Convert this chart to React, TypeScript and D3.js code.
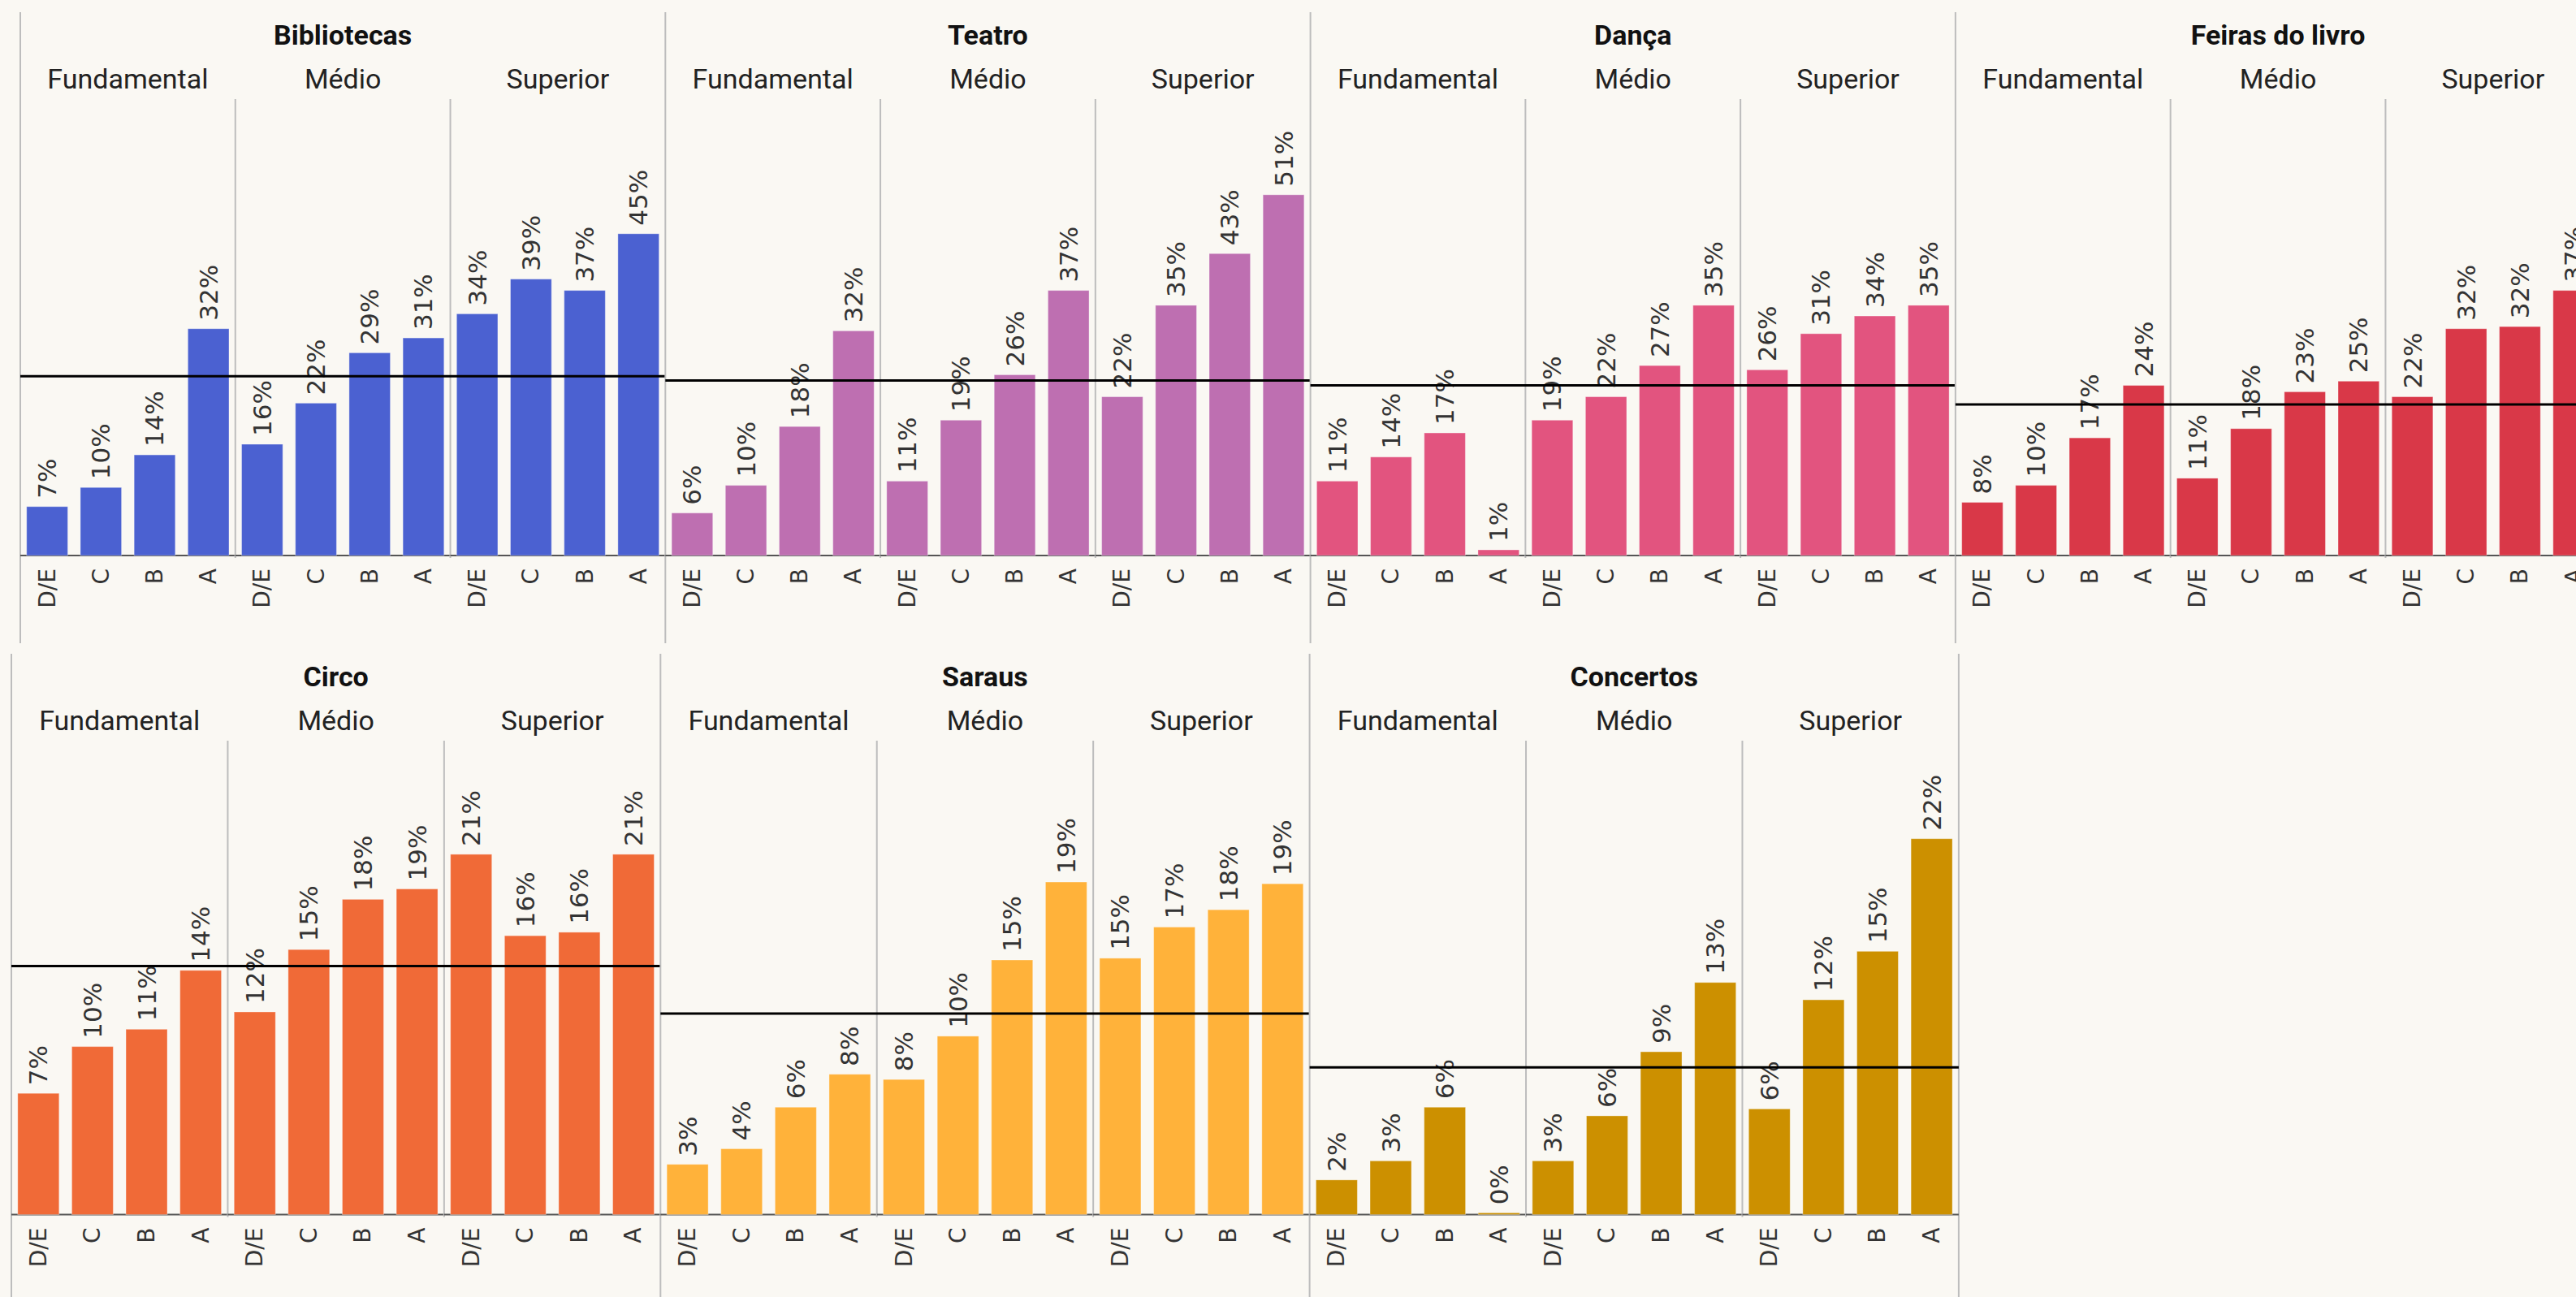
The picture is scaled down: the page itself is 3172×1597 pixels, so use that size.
import React from "react";
import * as d3 from "d3";

// ---- Data ----
const activities = ["Bibliotecas", "Teatro", "Dança", "Feiras do livro", "Circo", "Saraus", "Concertos"];
const levels = ["Fundamental", "Médio", "Superior"];
const classes = ["D/E", "C", "B", "A"];

// 12 values each: Fundamental D/E,C,B,A | Médio D/E,C,B,A | Superior D/E,C,B,A  (in %)
const bibliotecas = [6.9, 9.6, 14.2, 32.0, 15.7, 21.5, 28.6, 30.7, 34.1, 39.0, 37.4, 45.4];
const teatro = [6.0, 9.9, 18.2, 31.7, 10.5, 19.1, 25.5, 37.4, 22.4, 35.3, 42.6, 50.9];
const danca = [10.5, 13.9, 17.3, 0.8, 19.1, 22.4, 26.8, 35.3, 26.2, 31.3, 33.8, 35.3];
const feiras = [7.5, 9.9, 16.6, 24.0, 10.9, 17.9, 23.1, 24.6, 22.4, 32.0, 32.3, 37.4];
const circo = [7.0, 9.7, 10.7, 14.1, 11.7, 15.3, 18.2, 18.8, 20.8, 16.1, 16.3, 20.8];
const saraus = [2.9, 3.8, 6.2, 8.1, 7.8, 10.3, 14.7, 19.2, 14.8, 16.6, 17.6, 19.1];
const concertos = [2.0, 3.1, 6.2, 0.1, 3.1, 5.7, 9.4, 13.4, 6.1, 12.4, 15.2, 21.7];

const seriesValues = [bibliotecas, teatro, danca, feiras, circo, saraus, concertos];
// average reference line per activity (%)
const referenceValues = [25.3, 24.7, 24.0, 21.3, 14.35, 11.6, 8.5];
const colors = ["#4B61D1", "#BE6FB1", "#E2547F", "#D93848", "#F06A37", "#FFB23A", "#CC9000"];

// shared y-axis maxima for each row of panels
const topRowMax = 64.4;
const bottomRowMax = 27.36;

const W = 3172;
const H = 1597;
const BG = "#FAF8F3";
const GRID = "#BDBDBD";

const rows = [
  { idx: [0, 1, 2, 3], x0: 25, panelW: 794.3, top: 15, chartTop: 122, baseline: 684, bottomEdge: 792, max: topRowMax },
  { idx: [4, 5, 6], x0: 14, panelW: 799.3, top: 805, chartTop: 912, baseline: 1495.5, bottomEdge: 1597, max: bottomRowMax },
];

const titleFont = "Roboto, 'Noto Sans', sans-serif";
const labelFont = "'DejaVu Sans', Verdana, sans-serif";

export default function App() {
  const panels: React.ReactNode[] = [];

  rows.forEach((row, ri) => {
    const y = d3.scaleLinear().domain([0, row.max]).range([row.baseline, row.chartTop]);
    row.idx.forEach((ai, k) => {
      const px = row.x0 + k * row.panelW;
      const subW = row.panelW / levels.length;
      const vals = seriesValues[ai];
      const color = colors[ai];
      const isLast = k === row.idx.length - 1;

      const levelScale = d3.scaleBand().domain(levels).range([px, px + row.panelW]);

      panels.push(
        <g key={`p-${ri}-${k}`}>
          {/* panel borders */}
          <line x1={px} x2={px} y1={row.top} y2={row.bottomEdge} stroke={GRID} strokeWidth={2} />
          {isLast && (
            <line x1={px + row.panelW} x2={px + row.panelW} y1={row.top} y2={row.bottomEdge} stroke={GRID} strokeWidth={2} />
          )}
          {/* title */}
          <text x={px + row.panelW / 2} y={row.top + 40} textAnchor="middle" fontFamily={titleFont} fontWeight={700} fontSize={34} fill="#111">
            {activities[ai]}
          </text>
          {levels.map((lv, j) => {
            const sx = levelScale(lv) as number;
            const xb = d3
              .scaleBand()
              .domain(classes)
              .range([sx, sx + subW])
              .paddingInner(0.235)
              .paddingOuter(0.1175);
            return (
              <g key={lv}>
                <text x={sx + subW / 2} y={row.top + 94} textAnchor="middle" fontFamily={titleFont} fontSize={34} fill="#222">
                  {lv}
                </text>
                {j > 0 && (
                  <line x1={sx} x2={sx} y1={row.chartTop} y2={row.baseline + 3} stroke={GRID} strokeWidth={2} />
                )}
                <line x1={sx} x2={sx + subW} y1={row.baseline} y2={row.baseline} stroke="#555" strokeWidth={2} />
                {classes.map((c, ci) => {
                  const v = vals[j * 4 + ci];
                  const bx = xb(c) as number;
                  const bw = xb.bandwidth();
                  const yt = y(v);
                  const cx = bx + bw / 2;
                  return (
                    <g key={c}>
                      <rect x={bx} y={yt} width={bw} height={row.baseline - yt} fill={color} stroke="rgba(255,255,255,0.35)" strokeWidth={1} />
                      <text
                        transform={`translate(${cx},${yt - 10}) rotate(-90)`}
                        textAnchor="start"
                        dominantBaseline="central"
                        fontFamily={labelFont}
                        fontSize={31}
                        fill="#333"
                      >
                        {`${Math.round(v)}%`}
                      </text>
                      <text
                        transform={`translate(${cx},${row.baseline + 16}) rotate(-90)`}
                        textAnchor="end"
                        dominantBaseline="central"
                        fontFamily={labelFont}
                        fontSize={28}
                        fill="#333"
                      >
                        {c}
                      </text>
                    </g>
                  );
                })}
              </g>
            );
          })}
          {/* reference line */}
          <line x1={px} x2={px + row.panelW} y1={y(referenceValues[ai])} y2={y(referenceValues[ai])} stroke="#000" strokeWidth={3} />
        </g>
      );
    });
  });

  return (
    <svg
      width={W}
      height={H}
      viewBox={`0 0 ${W} ${H}`}
      style={{ position: "absolute", left: 0, top: 0, display: "block" }}
    >
      <rect x={0} y={0} width={W} height={H} fill={BG} />
      {panels}
    </svg>
  );
}
